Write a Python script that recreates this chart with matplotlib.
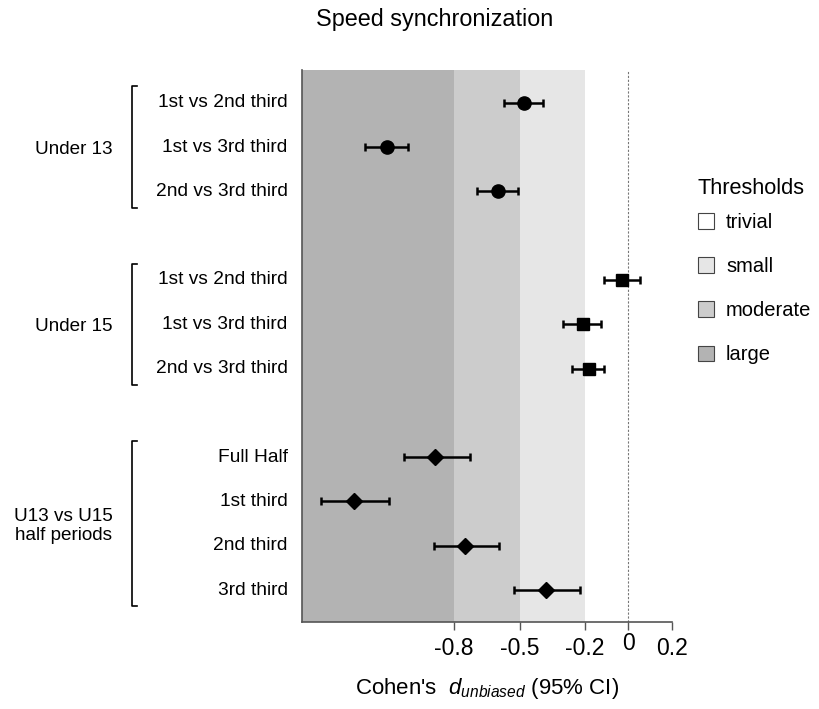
import matplotlib

matplotlib.use("Agg")
import matplotlib.pyplot as plt
from matplotlib.patches import Patch
from matplotlib.lines import Line2D

plt.rcParams["font.family"] = ["Liberation Sans", "DejaVu Sans"]
plt.rcParams["mathtext.fontset"] = "custom"
plt.rcParams["mathtext.it"] = "Liberation Sans:italic"
plt.rcParams["mathtext.rm"] = "Liberation Sans"

# data, top to bottom
row_labels = [
    "1st vs 2nd third", "1st vs 3rd third", "2nd vs 3rd third",
    "1st vs 2nd third", "1st vs 3rd third", "2nd vs 3rd third",
    "Full Half", "1st third", "2nd third", "3rd third",
]
row_pos = [0, 1, 2, 4, 5, 6, 8, 9, 10, 11]
estimate = [-0.48, -1.11, -0.60, -0.03, -0.21, -0.18, -0.89, -1.26, -0.75, -0.38]
ci_low = [-0.57, -1.21, -0.695, -0.11, -0.30, -0.26, -1.03, -1.41, -0.895, -0.527]
ci_high = [-0.39, -1.01, -0.507, 0.052, -0.126, -0.11, -0.727, -1.098, -0.594, -0.223]
group_names = ["Under 13", "Under 15", "U13 vs U15\nhalf periods"]
group_rows = [(0, 3), (3, 6), (6, 10)]
group_markers = ["o", "s", "D"]
group_msize = [9.5, 8.5, 8]

thresholds = [-1.5, -0.8, -0.5, -0.2, 0.2]
threshold_names = ["large", "moderate", "small", "trivial"]
threshold_colors = ["#b3b3b3", "#cccccc", "#e6e6e6", "#ffffff"]
xticks = [-0.8, -0.5, -0.2, 0, 0.2]
xticklabels = ["-0.8", "-0.5", "-0.2", "0", "0.2"]

fig = plt.figure(figsize=(8.2, 7.09), dpi=100)
ax = fig.add_axes([0.368, 0.1227, 0.4515, 0.7786])

for i, c in enumerate(threshold_colors[:3]):
    ax.axvspan(thresholds[i], thresholds[i + 1], color=c, lw=0, zorder=0)
ax.axvline(0, color="#777777", lw=0.8, ls=(0, (2, 1.5)), zorder=1)

for (a, b), m, ms in zip(group_rows, group_markers, group_msize):
    x = estimate[a:b]
    y = row_pos[a:b]
    xerr = [[e - lo for e, lo in zip(x, ci_low[a:b])],
            [hi - e for e, hi in zip(x, ci_high[a:b])]]
    ax.errorbar(x, y, xerr=xerr, fmt=m, color="black", ms=ms, elinewidth=1.8,
                capsize=3, capthick=1.8, zorder=3)

ax.set_xlim(-1.5, 0.2)
ax.set_ylim(11.72, -0.74)
ax.set_xticks(xticks)
ax.set_xticklabels(xticklabels, fontsize=16.5)
ax.set_yticks([])
ax.tick_params(axis="x", length=6, width=1, color="#555555", pad=5)
ax.xaxis.get_major_ticks()[3].set_pad(1.5)
for s in ["top", "right"]:
    ax.spines[s].set_visible(False)
ax.spines["left"].set_color("#555555")
ax.spines["bottom"].set_color("#555555")
ax.spines["left"].set_linewidth(1.2)
ax.spines["bottom"].set_linewidth(1.2)

tr = ax.get_yaxis_transform()
# row labels
for lab, y in zip(row_labels, row_pos):
    ax.text(-0.0385, y, lab, transform=tr, ha="right", va="center",
            fontsize=13.8)

# group brackets and labels
for name, (a, b) in zip(group_names, group_rows):
    y0 = row_pos[a] - 0.37
    y1 = row_pos[b - 1] + 0.37
    ax.add_line(Line2D([-0.445, -0.458, -0.458, -0.445], [y0, y0, y1, y1],
                       transform=tr, color="black", lw=1.2, clip_on=False))
    yc = (row_pos[a] + row_pos[b - 1]) / 2
    ax.text(-0.511, yc + 0.05, name, transform=tr, ha="right", va="center",
            multialignment="center", fontsize=13.6, linespacing=1.1)

handles = [Patch(facecolor=c, edgecolor="#444444", lw=0.8)
           for c in threshold_colors[::-1]]
leg = fig.legend(handles, threshold_names[::-1], title="Thresholds",
                 loc="upper left", bbox_to_anchor=(0.851, 0.749),
                 frameon=False, fontsize=14.5, title_fontsize=15.7,
                 labelspacing=1.25, handlelength=0.8, handleheight=0.8,
                 handletextpad=0.6, borderaxespad=0, borderpad=0)
leg._legend_box.align = "left"
leg._legend_box.sep = 10

fig.text(0.53, 0.972, "Speed synchronization", ha="center", va="center",
         fontsize=16.8)
ax.set_xlabel("Cohen's  $d_{unbiased}$ (95% CI)", fontsize=16, labelpad=11)

fig.savefig("out.png")
